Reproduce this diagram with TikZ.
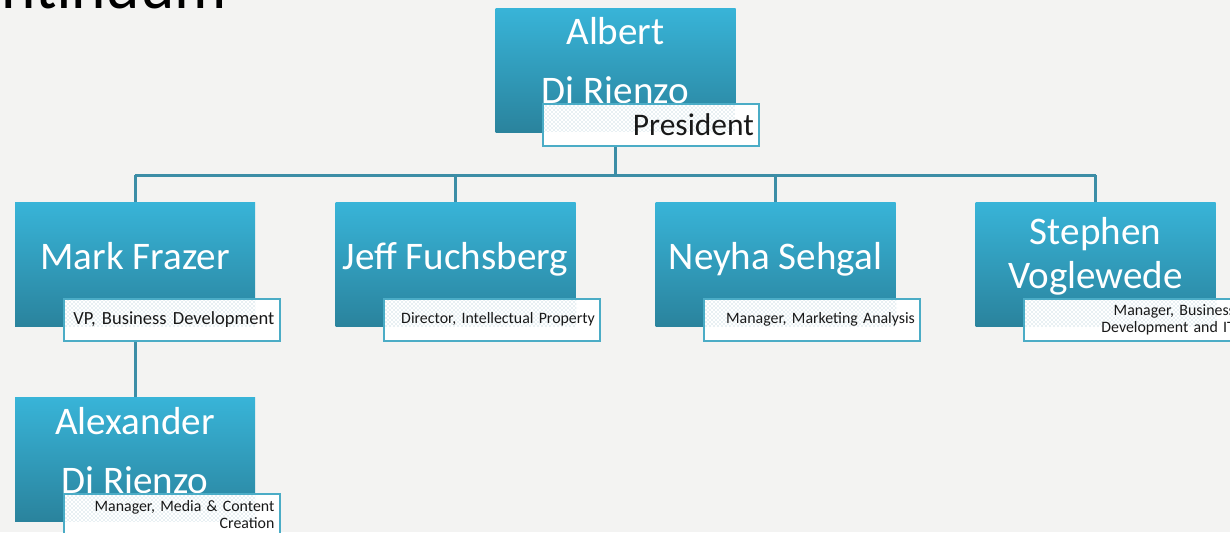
\documentclass[tikz,border=0pt]{standalone}
\usepackage{fontspec}
\setmainfont{Carlito}
\usetikzlibrary{calc,patterns}
\definecolor{bgc}{HTML}{F3F3F2}
\definecolor{boxtop}{HTML}{38B4D8}
\definecolor{boxmid}{HTML}{32A3C3}
\definecolor{boxbot}{HTML}{2A839D}
\definecolor{lblborder}{HTML}{4BACC6}
\definecolor{connc}{HTML}{3C8DA6}
\definecolor{dotc}{HTML}{9DC2CE}
\pgfdeclarelayer{bg}
\pgfdeclarelayer{lines}
\pgfsetlayers{bg,lines,main}
\tikzset{
  pbox/.style={rectangle, inner sep=0pt, minimum width=180pt, minimum height=93pt,
    top color=boxtop, middle color=boxmid, bottom color=boxbot},
  namet/.style={text=white, font=\fontsize{29.3}{44}\selectfont, align=center, inner sep=0pt},
  nameone/.style={text=white, font=\fontsize{29.3}{44}\selectfont, inner sep=0pt, text depth=0pt},
  namett/.style={namet, font=\fontsize{29.3}{33}\selectfont},
  lbl/.style={rectangle, draw=lblborder, line width=1.5pt, fill=white,
    minimum width=162pt, minimum height=31.5pt, text width=154pt,
    inner xsep=4pt, inner ysep=0pt, align=right, anchor=north west,
    text={black!90}, font=\fontsize{11.9}{12.8}\selectfont,
    path picture={\fill[pattern=crosshatch dots, pattern color=dotc]
      (path picture bounding box.north west) rectangle
      ([xshift=-18pt,yshift=10.5pt]path picture bounding box.south east);}},
  conn/.style={draw=connc, line width=2.25pt},
}
\begin{document}
\begin{tikzpicture}[x=0.75pt,y=-0.75pt]
\useasboundingbox (0,0) rectangle (1230,532);
\clip (0,0) rectangle (1230,532);
\begin{pgfonlayer}{bg}
  \fill[bgc] (0,0) rectangle (1230,532);
\end{pgfonlayer}

\node[font=\fontsize{49}{50}\selectfont, anchor=base east, inner sep=0pt] (title) at (227,8) {Continuum};

% boxes
\node[pbox] (albert)  at (615.5,70) {};
\node[pbox] (mark)    at (135,264) {};
\node[pbox] (jeff)    at (455.5,264) {};
\node[pbox] (neyha)   at (775.5,264) {};
\node[pbox] (stephen) at (1095.5,264) {};
\node[pbox] (alex)    at (135,459) {};

% names
\node[namet]   (albertn)  at ($(albert.north)+(0,53)$) {Albert\\Di Rienzo};
\node[nameone] (markn)    at ($(mark.north)+(0,54)$) {Mark Frazer};
\node[nameone] (jeffn)    at ($(jeff.north)+(0,54)$) {Jeff Fuchsberg};
\node[nameone] (neyhan)   at ($(neyha.north)+(0,54)$) {Neyha Sehgal};
\node[namett]  (stephenn) at ($(stephen.north)+(0,55)$) {Stephen\\Voglewede};
\node[namet]   (alexn)    at ($(alex.north)+(0,54)$) {Alexander\\Di Rienzo};

% labels
\node[lbl, font=\fontsize{23.6}{25}\selectfont] (albertl) at ($(albert.north west)+(47,95)$) {President};
\node[lbl, font=\fontsize{13.9}{15}\selectfont] (markl) at ($(mark.north west)+(48,96)$) {VP, Business Development};
\node[lbl] (jeffl)    at ($(jeff.north west)+(48,96)$) {Director, Intellectual Property};
\node[lbl] (neyhal)   at ($(neyha.north west)+(48,96)$) {Manager, Marketing Analysis};
\node[lbl] (stephenl) at ($(stephen.north west)+(48,96)$) {Manager, Business\\Development and IT};
\node[lbl] (alexl)    at ($(alex.north west)+(48,96)$) {Manager, Media \& Content\\Creation};

% connectors
\coordinate (bus) at (615.5,175);
\begin{pgfonlayer}{lines}
  \draw[conn] (albert) -- (albert |- bus);
  \draw[conn] (mark |- bus) -- (stephen |- bus);
  \foreach \n in {mark,jeff,neyha,stephen} \draw[conn] (\n |- bus) -- (\n);
  \draw[conn] (mark) -- (alex);
\end{pgfonlayer}
\end{tikzpicture}
\end{document}
